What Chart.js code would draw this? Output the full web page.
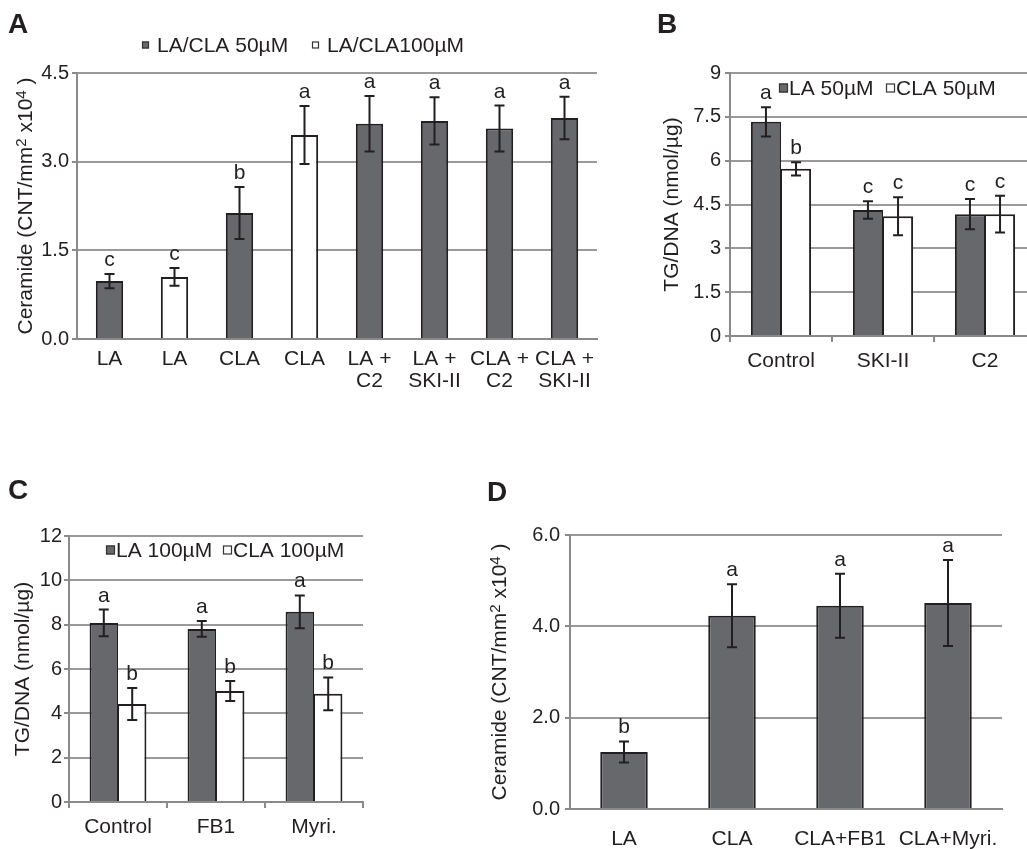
<!DOCTYPE html>
<html lang="en">
<head>
<meta charset="utf-8">
<title>Ceramide and TG/DNA</title>
<script src="https://cdn.jsdelivr.net/npm/chart.js@4.4.1/dist/chart.umd.min.js"></script>
<style>
  html, body { margin: 0; padding: 0; background: #fff; }
  #wrap { position: relative; width: 1027px; height: 849px; overflow: hidden; }
  #wrap canvas { position: absolute; left: 0; top: 0; }
</style>
</head>
<body>
<div id="wrap">
  <canvas id="chartA" width="1040" height="849"></canvas>
  <canvas id="chartB" width="1040" height="849"></canvas>
  <canvas id="chartC" width="1040" height="849"></canvas>
  <canvas id="chartD" width="1040" height="849"></canvas>
</div>
<script>
// ---- data ----
// panel A
const catsA = [["LA"], ["LA"], ["CLA"], ["CLA"], ["LA +", "C2"], ["LA +", "SKI-II"], ["CLA +", "C2"], ["CLA +", "SKI-II"]];
const a50 = [0.98, null, 2.13, null, 3.64, 3.69, 3.56, 3.74];
const a50Err = [0.12, null, 0.44, null, 0.47, 0.40, 0.39, 0.36];
const a50Sig = ["c", null, "b", null, "a", "a", "a", "a"];
const a100 = [null, 1.05, null, 3.45, null, null, null, null];
const a100Err = [null, 0.15, null, 0.49, null, null, null, null];
const a100Sig = [null, "c", null, "a", null, null, null, null];

// panel B
const catsB = ["Control", "SKI-II", "C2"];
const bLA = [7.33, 4.31, 4.17];
const bLAErr = [0.50, 0.30, 0.52];
const bLASig = ["a", "c", "c"];
const bCLA = [5.72, 4.10, 4.17];
const bCLAErr = [0.23, 0.65, 0.63];
const bCLASig = ["b", "c", "c"];

// panel C
const catsC = ["Control", "FB1", "Myri."];
const cLA = [8.08, 7.81, 8.58];
const cLAErr = [0.60, 0.36, 0.74];
const cLASig = ["a", "a", "a"];
const cCLA = [4.42, 5.01, 4.88];
const cCLAErr = [0.72, 0.45, 0.74];
const cCLASig = ["b", "b", "b"];

// panel D
const catsD = ["LA", "CLA", "CLA+FB1", "CLA+Myri."];
const dVals = [1.25, 4.23, 4.45, 4.51];
const dErr = [0.23, 0.69, 0.70, 0.94];
const dSig = ["b", "a", "a", "a"];

// ---- style ----
const FONT = "'Liberation Sans', Arial, Helvetica, sans-serif";
const TXT = "#231f20";
const GRAY = "#67686b";
const GRID = "#9a9a9a";
const AXIS = "#8a8a8a";
const CW = 1040, CH = 849;
// left bar of a pair gets a thin right edge, right bar a thin left edge,
// so the shared edge looks like one line
const leftBorder = { top: 2, left: 2, right: 1, bottom: 2 };
const rightBorder = { top: 2, left: 1, right: 2, bottom: 2 };

Chart.defaults.font.family = FONT;
Chart.defaults.color = TXT;

// rotated axis title, with optional superscript pieces
function drawVTitle(ctx, segs, cx, cy, size) {
  ctx.save();
  ctx.translate(cx, cy);
  ctx.rotate(-Math.PI / 2);
  ctx.fillStyle = TXT;
  ctx.textBaseline = "alphabetic";
  let total = 0;
  segs.forEach(s => {
    ctx.font = (s.sup ? Math.round(size * 0.7) : size) + "px " + FONT;
    s.w = ctx.measureText(s.t).width;
    total += s.w;
  });
  let x = -total / 2;
  const base = size * 0.716 / 2;
  segs.forEach(s => {
    ctx.font = (s.sup ? Math.round(size * 0.7) : size) + "px " + FONT;
    ctx.fillText(s.t, x, s.sup ? base - size * 0.28 : base);
    x += s.w;
  });
  ctx.restore();
}

const panelPlugin = {
  id: "panel",
  afterDatasetsDraw(chart) {
    const ctx = chart.ctx;
    const ys = chart.scales.y;
    ctx.save();
    chart.data.datasets.forEach((ds, i) => {
      const meta = chart.getDatasetMeta(i);
      meta.data.forEach((el, j) => {
        const v = ds.data[j];
        if (v == null) return;
        const e = ds.err[j];
        const x = el.x;
        const yt = ys.getPixelForValue(v + e);
        const yb = ys.getPixelForValue(v - e);
        ctx.strokeStyle = TXT;
        ctx.lineWidth = 2;
        ctx.beginPath();
        ctx.moveTo(x, yt); ctx.lineTo(x, yb);
        ctx.moveTo(x - 5, yt); ctx.lineTo(x + 5, yt);
        ctx.moveTo(x - 5, yb); ctx.lineTo(x + 5, yb);
        ctx.stroke();
        if (ds.sig && ds.sig[j]) {
          ctx.fillStyle = TXT;
          ctx.font = "21px " + FONT;
          ctx.textAlign = "center";
          ctx.textBaseline = "alphabetic";
          ctx.fillText(ds.sig[j], x, yt - 8);
        }
      });
    });
    ctx.restore();
  },
  afterDraw(chart) {
    const ctx = chart.ctx;
    const p = chart.options.plugins.panel;
    ctx.save();
    // panel letter
    ctx.fillStyle = TXT;
    ctx.font = "bold 28px " + FONT;
    ctx.textAlign = "left";
    ctx.textBaseline = "alphabetic";
    ctx.fillText(p.letter, p.lx, p.ly);
    // y title
    const ca = chart.chartArea;
    drawVTitle(ctx, p.title, p.tx, (ca.top + ca.bottom) / 2, 21);
    // legend
    if (p.legend) {
      const L = p.legend;
      ctx.font = "21px " + FONT;
      ctx.textBaseline = "middle";
      chart.data.datasets.forEach((ds, i) => {
        const x = L.xs[i];
        ctx.fillStyle = ds.backgroundColor;
        ctx.fillRect(x, L.y - L.box / 2, L.box, L.box);
        ctx.strokeStyle = "#333";
        ctx.lineWidth = 1.2;
        ctx.strokeRect(x + 0.5, L.y - L.box / 2 + 0.5, L.box - 1, L.box - 1);
        ctx.fillStyle = TXT;
        ctx.fillText(ds.label, x + L.box + L.gap, L.y + 1);
      });
    }
    ctx.restore();
  }
};

function makeChart(id, labels, datasets, p) {
  return new Chart(document.getElementById(id), {
    type: "bar",
    data: { labels: labels, datasets: datasets },
    plugins: [panelPlugin],
    options: {
      responsive: false,
      animation: false,
      events: [],
      layout: { padding: { left: p.L - p.yW, top: p.T, right: CW - p.R, bottom: CH - p.B - p.xH } },
      plugins: {
        legend: { display: false },
        tooltip: { enabled: false },
        panel: p.panel
      },
      datasets: {
        bar: {
          categoryPercentage: p.catPct,
          barPercentage: p.barPct,
          borderWidth: 2,
          borderColor: TXT
        }
      },
      scales: {
        x: {
          stacked: !!p.stacked,
          offset: true,
          grid: { drawOnChartArea: false, drawTicks: p.xTicks, tickLength: 6, color: AXIS, lineWidth: 2 },
          border: { color: AXIS, width: 2 },
          ticks: { padding: p.xPad, maxRotation: 0, minRotation: 0, autoSkip: false, color: TXT,
                   font: { size: 21, lineHeight: p.lh || 1.2 } },
          afterFit: s => { s.height = p.xH; }
        },
        y: {
          stacked: !!p.stacked,
          min: p.min, max: p.max,
          grid: { color: GRID, lineWidth: 2, drawTicks: true, tickLength: 5, tickColor: AXIS },
          border: { color: AXIS, width: 2 },
          ticks: { stepSize: p.step, padding: p.yPad, color: TXT, font: { size: 20 },
                   callback: p.fmt },
          afterFit: s => { s.width = p.yW; }
        }
      }
    }
  });
}

const oneDec = v => v.toFixed(1);
const plain = v => String(v);

makeChart("chartA", catsA, [
  { label: "LA/CLA 50\u00b5M", data: a50, err: a50Err, sig: a50Sig, backgroundColor: GRAY },
  { label: "LA/CLA100\u00b5M", data: a100, err: a100Err, sig: a100Sig, backgroundColor: "#ffffff" }
], {
  L: 77, T: 73, R: 597, B: 339, yW: 60, xH: 60, stacked: true,
  min: 0, max: 4.5, step: 1.5, fmt: oneDec, yPad: 3, xTicks: false, xPad: 9, lh: 1.05,
  catPct: 1, barPct: 0.42,
  panel: {
    letter: "A", lx: 8, ly: 33, tx: 24,
    title: [{ t: "Ceramide (CNT/mm" }, { t: "2", sup: true }, { t: " x10" }, { t: "4", sup: true }, { t: " )" }],
    legend: { xs: [142, 312], y: 45, box: 7, gap: 8 }
  }
});

makeChart("chartB", catsB, [
  { label: "LA 50\u00b5M", data: bLA, err: bLAErr, sig: bLASig, backgroundColor: GRAY, borderWidth: leftBorder },
  { label: "CLA 50\u00b5M", data: bCLA, err: bCLAErr, sig: bCLASig, backgroundColor: "#ffffff", borderWidth: rightBorder }
], {
  L: 730, T: 73, R: 1036, B: 336, yW: 60, xH: 50,
  min: 0, max: 9, step: 1.5, fmt: plain, yPad: 4, xTicks: true, xPad: 7,
  catPct: 0.59, barPct: 1,
  panel: {
    letter: "B", lx: 657, ly: 33, tx: 670,
    title: [{ t: "TG/DNA (nmol/\u00b5g)" }],
    legend: { xs: [779, 886], y: 88, box: 9, gap: 1 }
  }
});

makeChart("chartC", catsC, [
  { label: "LA 100\u00b5M", data: cLA, err: cLAErr, sig: cLASig, backgroundColor: GRAY, borderWidth: leftBorder },
  { label: "CLA 100\u00b5M", data: cCLA, err: cCLAErr, sig: cCLASig, backgroundColor: "#ffffff", borderWidth: rightBorder }
], {
  L: 69, T: 536, R: 363, B: 802, yW: 60, xH: 40,
  min: 0, max: 12, step: 2, fmt: plain, yPad: 2, xTicks: true, xPad: 7,
  catPct: 0.58, barPct: 1,
  panel: {
    letter: "C", lx: 8, ly: 499, tx: 21,
    title: [{ t: "TG/DNA (nmol/\u00b5g)" }],
    legend: { xs: [106, 223], y: 550, box: 9, gap: 1 }
  }
});

makeChart("chartD", catsD, [
  { label: "Ceramide", data: dVals, err: dErr, sig: dSig, backgroundColor: GRAY }
], {
  L: 570, T: 535, R: 1002, B: 809, yW: 60, xH: 40,
  min: 0, max: 6, step: 2, fmt: oneDec, yPad: 5, xTicks: false, xPad: 18,
  catPct: 0.44, barPct: 1,
  panel: {
    letter: "D", lx: 487, ly: 501, tx: 498,
    title: [{ t: "Ceramide (CNT/mm" }, { t: "2", sup: true }, { t: " x10" }, { t: "4", sup: true }, { t: " )" }]
  }
});
</script>
</body>
</html>
